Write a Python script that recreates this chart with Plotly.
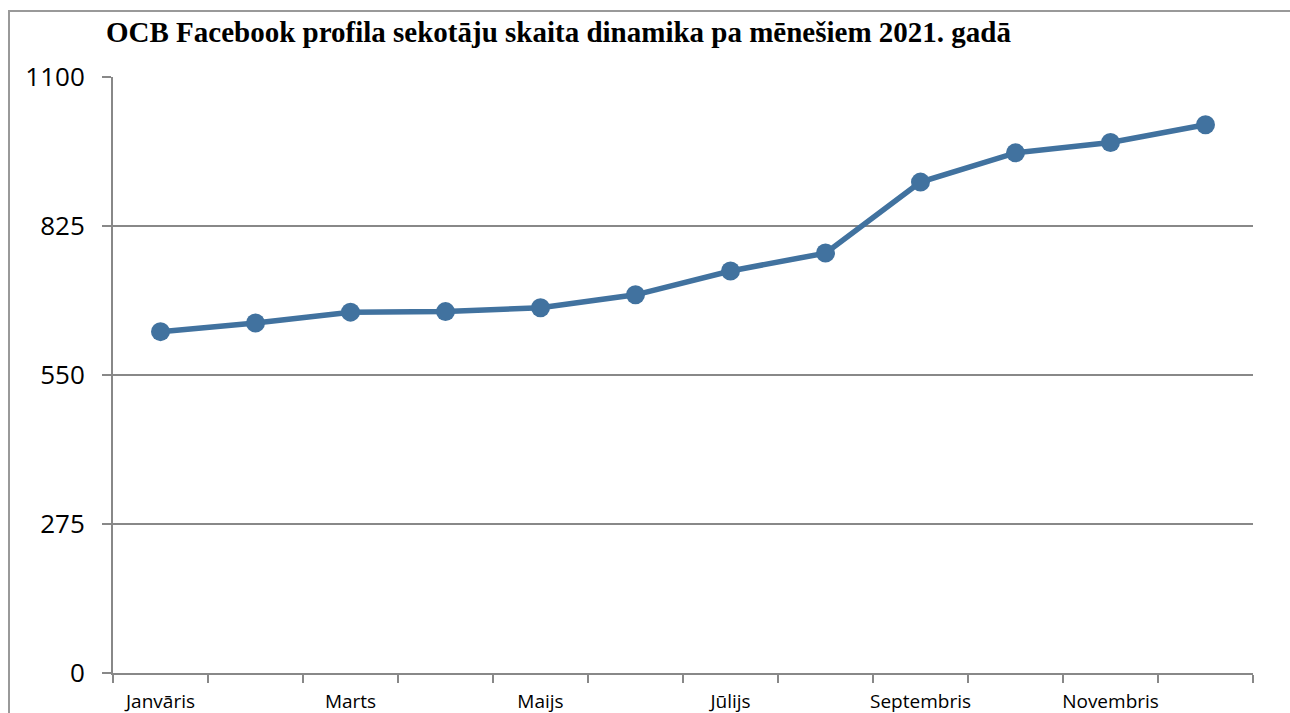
import plotly.graph_objects as go

months = ["Janvāris", "Februāris", "Marts", "Aprīlis", "Maijs", "Jūnijs",
          "Jūlijs", "Augusts", "Septembris", "Oktobris", "Novembris", "Decembris"]
followers = [630, 646, 666, 667, 674, 698, 742, 775, 906, 960, 979, 1012]
y_ticks = [0, 275, 550, 825, 1100]
title_text = "OCB Facebook profila sekotāju skaita dinamika pa mēnešiem 2021. gadā"

x_idx = list(range(len(months)))
label_idx = x_idx[::2]
label_txt = months[::2]

fig = go.Figure()
fig.add_trace(go.Scatter(
    x=x_idx, y=followers, mode="lines+markers",
    line=dict(color="#41729F", width=5.5),
    marker=dict(color="#41729F", size=19),
    hoverinfo="x+y", showlegend=False,
))

fig.update_layout(
    width=1290, height=713,
    margin=dict(l=113, r=37, t=77, b=40, autoexpand=False),
    paper_bgcolor="white", plot_bgcolor="white",
    title=dict(text="<b>" + title_text + "</b>", x=106/1290, xanchor="left",
               y=1 - 32/713, yanchor="middle",
               font=dict(family="Liberation Serif", size=29, color="black")),
    xaxis=dict(
        range=[-0.5, 11.5], tickmode="array", tickvals=label_idx, ticktext=label_txt,
        ticks="", showgrid=False, zeroline=False, automargin=False,
        showline=True, linecolor="#888888", linewidth=2,
        tickfont=dict(family="Open Sans", size=19, color="black"),
        ticklabelstandoff=10,
        minor=dict(tick0=-0.5, dtick=1, ticks="outside", ticklen=8,
                   tickcolor="#888888", tickwidth=2, showgrid=False),
    ),
    yaxis=dict(
        range=[0, 1100], tickmode="array", tickvals=y_ticks,
        ticktext=[str(v) for v in y_ticks], automargin=False,
        ticks="outside", ticklen=9, tickcolor="#888888", tickwidth=2,
        showgrid=True, gridcolor="#888888", gridwidth=2, zeroline=False,
        showline=True, linecolor="#888888", linewidth=2,
        tickfont=dict(family="Open Sans", size=26, color="black"),
        ticklabelstandoff=12,
    ),
    shapes=[
        dict(type="rect", xref="paper", yref="paper", layer="below",
             x0=(9 - 113) / 1140, x1=(1300 - 113) / 1140,
             y0=(673 - 11) / 596, y1=(673 - 730) / 596,
             line=dict(color="#999999", width=2), fillcolor="rgba(0,0,0,0)"),
    ],
)

fig.write_html("out.html", config={"displayModeBar": False},
               post_script="document.body.style.margin='0';")
